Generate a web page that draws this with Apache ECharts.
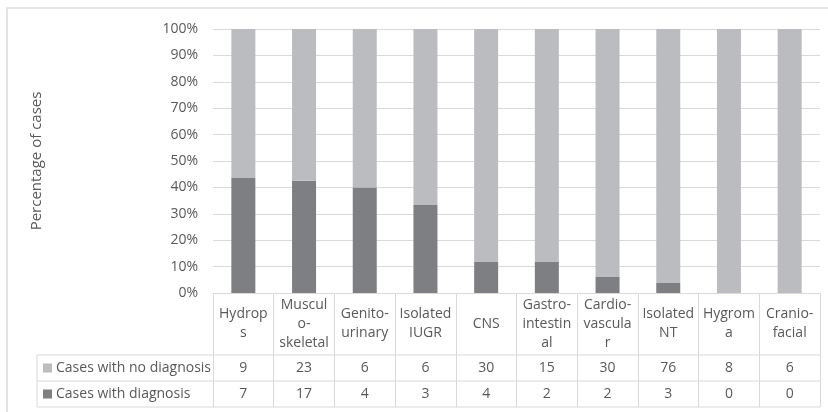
<!DOCTYPE html>
<html>
<head>
<meta charset="utf-8">
<script src="https://cdn.jsdelivr.net/npm/echarts@6/dist/echarts.min.js"></script>
<style>
html,body{margin:0;padding:0;background:#fff;}
#c{width:828px;height:412px;}
</style>
</head>
<body>
<div id="c"></div>
<script>
// ---- data ----
const categories = ["Hydrop\ns", "Muscul\no-\nskeletal", "Genito-\nurinary", "Isolated\nIUGR", "CNS", "Gastro-\nintestin\nal", "Cardio-\nvascula\nr", "Isolated\nNT", "Hygrom\na", "Cranio-\nfacial"];
const noDiagnosis = [9, 23, 6, 6, 30, 15, 30, 76, 8, 6];
const withDiagnosis = [7, 17, 4, 3, 4, 2, 2, 3, 0, 0];
const seriesNames = ["Cases with no diagnosis", "Cases with diagnosis"];
const yTicks = [0, 10, 20, 30, 40, 50, 60, 70, 80, 90, 100];

const pctWith = withDiagnosis.map((d, i) => d / (d + noDiagnosis[i]) * 100);
const pctNo = noDiagnosis.map((n, i) => n / (n + withDiagnosis[i]) * 100);

const TXT = '#595959', LINE = '#d9d9d9';
const FONT = '"Open Sans", sans-serif';
const FS = 14;
const gridLeft = 213, gridRight = 8, gridTop = 29, gridBottom = 119;
const headerH = 62, rowH = 26, legendColX = 37;

const chart = echarts.init(document.getElementById('c'), null, {renderer: 'canvas'});
const option = {
  animation: false,
  textStyle: {fontFamily: FONT},
  grid: {left: gridLeft, right: gridRight, top: gridTop, bottom: gridBottom, containLabel: false},
  legend: {
    data: seriesNames, orient: 'vertical', left: 43, top: 361, padding: 0,
    itemGap: 12, itemWidth: 9, itemHeight: 9, icon: 'rect', selectedMode: false,
    textStyle: {color: TXT, fontSize: FS, fontFamily: FONT, lineHeight: 14, padding: [0, 0, 0, -1]}
  },
  xAxis: [
    {type: 'category', data: categories, position: 'bottom',
     axisLine: {show: true, lineStyle: {color: LINE, width: 1}},
     axisTick: {show: true, length: headerH + 2 * rowH, interval: 0, lineStyle: {color: LINE}},
     axisLabel: {interval: 0, margin: headerH / 2, verticalAlign: 'middle', lineHeight: 19,
                 color: TXT, fontSize: FS, fontFamily: FONT}},
    {type: 'category', data: categories, position: 'bottom', offset: headerH,
     axisLine: {show: false}, axisTick: {show: false},
     axisLabel: {interval: 0, margin: rowH / 2, verticalAlign: 'middle', color: TXT, fontSize: FS, fontFamily: FONT,
                 formatter: (v, i) => String(noDiagnosis[i])}},
    {type: 'category', data: categories, position: 'bottom', offset: headerH + rowH,
     axisLine: {show: false}, axisTick: {show: false},
     axisLabel: {interval: 0, margin: rowH / 2, verticalAlign: 'middle', color: TXT, fontSize: FS, fontFamily: FONT,
                 formatter: (v, i) => String(withDiagnosis[i])}}
  ],
  yAxis: {
    type: 'value', min: yTicks[0], max: yTicks[yTicks.length - 1], interval: yTicks[1] - yTicks[0],
    name: 'Percentage of cases', nameLocation: 'middle', nameRotate: 90, nameGap: 169,
    nameTextStyle: {color: TXT, fontSize: 15, fontFamily: FONT},
    axisLine: {show: false}, axisTick: {show: false},
    axisLabel: {formatter: '{value}%', color: TXT, fontSize: FS, margin: 15, fontFamily: FONT},
    splitLine: {lineStyle: {color: LINE, width: 1}}
  },
  series: [
    {name: seriesNames[1], type: 'bar', stack: 'all', data: pctWith, barWidth: 24,
     itemStyle: {color: '#7e7f83'}},
    {name: seriesNames[0], type: 'bar', stack: 'all', data: pctNo, barWidth: 24,
     itemStyle: {color: '#bbbcc0'}}
  ]
};
chart.setOption(option);

// table rules derived from grid geometry
const p0 = chart.convertToPixel({gridIndex: 0}, [0, 0]);
const yBase = p0[1];
const xRight = 828 - gridRight;
const lines = [];
[1, 2, 3].forEach(k => {
  const y = yBase + headerH + (k - 1) * rowH;
  lines.push({type: 'line', shape: {x1: legendColX, y1: y, x2: xRight, y2: y}, style: {stroke: LINE, lineWidth: 1}});
});
lines.push({type: 'line', shape: {x1: legendColX, y1: yBase + headerH, x2: legendColX, y2: yBase + headerH + 2 * rowH}, style: {stroke: LINE, lineWidth: 1}});
lines.push({type: 'rect', shape: {x: 7, y: 8, width: 900, height: 500}, style: {fill: 'none', stroke: '#dcdcdc', lineWidth: 1.5}, z: -1});
chart.setOption({graphic: {elements: lines}});
</script>
</body>
</html>
